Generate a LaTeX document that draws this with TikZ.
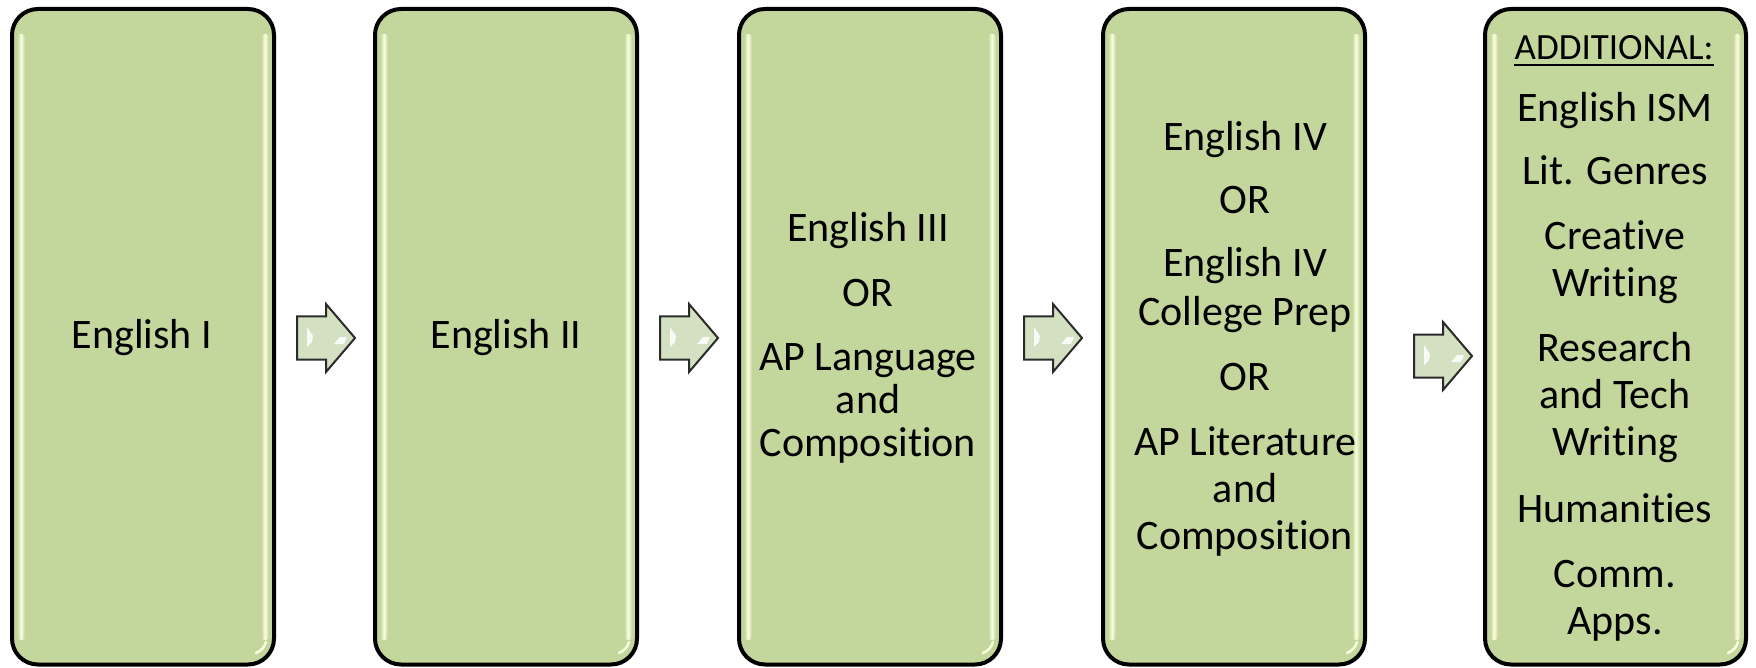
\documentclass[tikz,border=0pt]{standalone}
\usepackage{fontspec}
\setmainfont[Ligatures=NoCommon]{Carlito}
\definecolor{boxgreen}{HTML}{C3D69B}
\definecolor{glint}{HTML}{F8FEDC}
\definecolor{arrowfill}{HTML}{D3E0C2}
\definecolor{arrowline}{HTML}{2B2B2B}
\tikzset{
  stagebox/.style={draw=black, line width=4pt, fill=boxgreen, rounded corners=26pt,
    minimum width=262pt, minimum height=655.5pt, inner sep=0pt},
  txt/.style={anchor=base, inner sep=0pt, font=\fontsize{42}{50}\selectfont},
  hdrtxt/.style={anchor=base, inner sep=0pt, font=\fontsize{37}{44}\selectfont},
  pics/blockarrow/.style={code={
    \draw[arrowline, line width=2pt, fill=arrowfill, line join=miter]
      (0,-21.5) -- (29,-21.5) -- (29,-34) -- (58,0) -- (29,34) -- (29,21.5) -- (0,21.5) -- cycle;
    \fill[white, opacity=0.85] (10,-11) -- (16,-2) -- (15,4) -- (10,9) -- cycle;
    \fill[white, opacity=0.85] (37,6) -- (43,-1) -- (50,-1) -- (47,6) -- cycle;
  }}
}
\newcommand\glints[3]{% left x, right x, centre y of box
  \shade[left color=boxgreen, right color=boxgreen, middle color=glint, rounded corners=3pt]
    (#1+5,34) rectangle (#1+13,640);
  \shade[left color=boxgreen, right color=boxgreen, middle color=glint, rounded corners=3pt]
    (#2-13,34) rectangle (#2-5,640);
  \draw[glint, line width=2.5pt, line cap=round] (#2-8,642) to[bend left=25] (#2-18,653);
}
\begin{document}
\begin{tikzpicture}[x=1pt,y=-1pt]
\useasboundingbox (0,0) rectangle (1756,668);

% stage boxes
\node[stagebox] (b1) at (143,336.75) {};
\node[stagebox] (b2) at (506,336.75) {};
\node[stagebox] (b3) at (870,336.75) {};
\node[stagebox] (b4) at (1234,336.75) {};
\node[stagebox, minimum width=261pt] (b5) at (1615.5,336.75) {};

\glints{12}{274}{}
\glints{375}{637}{}
\glints{739}{1001}{}
\glints{1103}{1365}{}
\glints{1485}{1746}{}

% block arrows between stages
\pic (a1) at (297,338) {blockarrow};
\pic (a2) at (660,338) {blockarrow};
\pic (a3) at (1024,338) {blockarrow};
\pic (a4) at (1414,356) {blockarrow};

% texts
\node[txt] (t1) at (142,348) {English I};
\node[txt] (t2) at (506,348) {English II};

\foreach \t/\y [count=\i] in {English III/242, OR/307, AP Language/370, and/413, Composition/456}
  \node[txt] (t3l\i) at (868,\y) {\t};

\foreach \t/\y [count=\i] in {English IV/151, OR/214, English IV/277, College Prep/326, OR/390, AP Literature/455, and/502, Composition/549}
  \node[txt] (t4l\i) at (1245,\y) {\t};

\node[hdrtxt] (hdr) at (1614,60) {ADDITIONAL:};
\draw[line width=2pt] ([yshift=-5pt]hdr.base west) -- ([yshift=-5pt]hdr.base east);
\foreach \t/\y [count=\i] in {English ISM/122, Lit. Genres/185, Creative/250, Writing/297, Research/361, and Tech/408, Writing/455, Humanities/522, Comm./587, Apps./634}
  \node[txt] (t5l\i) at (1615,\y) {\t};
\end{tikzpicture}
\end{document}
